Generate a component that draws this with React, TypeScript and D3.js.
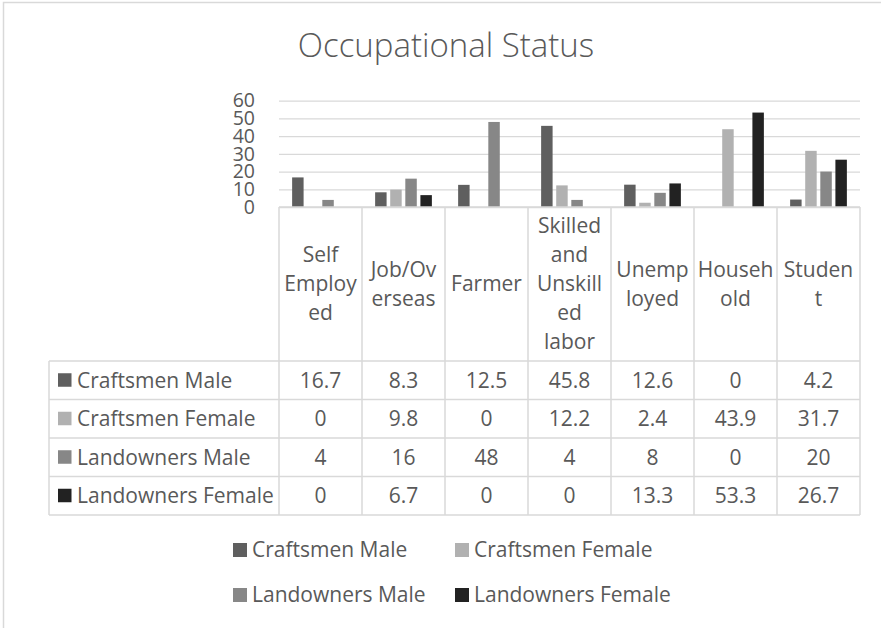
import React, { useRef, useEffect } from "react";
import * as d3 from "d3";

const categories = [
  "Self Employed",
  "Job/Overseas",
  "Farmer",
  "Skilled and Unskilled labor",
  "Unemployed",
  "Household",
  "Student",
];
// header text as it wraps in the table cells
const categoryLines = [
  ["Self", "Employ", "ed"],
  ["Job/Ov", "erseas"],
  ["Farmer"],
  ["Skilled", "and", "Unskill", "ed", "labor"],
  ["Unemp", "loyed"],
  ["Househ", "old"],
  ["Studen", "t"],
];
const seriesNames = [
  "Craftsmen Male",
  "Craftsmen Female",
  "Landowners Male",
  "Landowners Female",
];
const craftsmenMale = [16.7, 8.3, 12.5, 45.8, 12.6, 0, 4.2];
const craftsmenFemale = [0, 9.8, 0, 12.2, 2.4, 43.9, 31.7];
const landownersMale = [4, 16, 48, 4, 8, 0, 20];
const landownersFemale = [0, 6.7, 0, 0, 13.3, 53.3, 26.7];
const yTicks = [0, 10, 20, 30, 40, 50, 60];

const seriesColors = ["#5f5f5f", "#b1b1b1", "#878787", "#222222"];
const FONT = "'Open Sans', Lato, sans-serif";
const TEXT = "#595959";
const LINE = "#d9d9d9";

const OccupationalChart = () => {
  const svgRef = useRef<SVGSVGElement>(null);

  useEffect(() => {
    const svg = d3.select(svgRef.current);
    svg.selectAll("*").remove();

    const plotLeft = 279;
    const plotRight = 860;
    const plotTop = 100.7;
    const plotBottom = 207;
    const tableLeft = 49;
    const headerBottom = 361;
    const tableBottom = 515;
    const fs = 21;

    const allValues = [craftsmenMale, craftsmenFemale, landownersMale, landownersFemale];

    // chart frame
    svg
      .append("rect")
      .attr("x", 3.5)
      .attr("y", 2.5)
      .attr("width", 900)
      .attr("height", 700)
      .attr("fill", "white")
      .attr("stroke", LINE)
      .attr("stroke-width", 1.5);

    svg
      .append("text")
      .attr("x", 446)
      .attr("y", 57)
      .attr("text-anchor", "middle")
      .attr("font-size", 33)
      .attr("font-weight", 300)
      .attr("fill", TEXT)
      .text("Occupational Status");

    const x0 = d3.scaleBand().domain(categories).range([plotLeft, plotRight]);
    const x1 = d3
      .scaleBand()
      .domain(seriesNames)
      .range([0, x0.bandwidth()])
      .paddingInner(0.24)
      .paddingOuter(0.87);
    const y = d3.scaleLinear().domain([0, 60]).range([plotBottom, plotTop]);

    // y axis with gridlines
    const yAxis = d3
      .axisLeft(y)
      .tickValues(yTicks)
      .tickSize(-(plotRight - plotLeft))
      .tickPadding(24)
      .tickFormat((d) => String(d));

    const yg = svg
      .append("g")
      .attr("transform", `translate(${plotLeft},0)`)
      .call(yAxis);
    yg.select(".domain").remove();
    yg.selectAll(".tick line").attr("stroke", LINE).attr("stroke-width", 1.3);
    yg.selectAll(".tick text")
      .attr("fill", TEXT)
      .attr("font-size", 19.5)
      .attr("font-family", FONT);

    // bars
    const groups = svg
      .append("g")
      .selectAll("g")
      .data(categories)
      .enter()
      .append("g")
      .attr("transform", (d) => `translate(${x0(d)},0)`);

    groups
      .selectAll("rect")
      .data((d, i) => seriesNames.map((s, j) => ({ series: s, value: allValues[j][i], j })))
      .enter()
      .append("rect")
      .attr("x", (d) => x1(d.series))
      .attr("y", (d) => y(d.value))
      .attr("width", x1.bandwidth())
      .attr("height", (d) => plotBottom - y(d.value))
      .attr("fill", (d) => seriesColors[d.j]);

    // data table
    const rows = d3
      .scaleBand()
      .domain(seriesNames)
      .range([headerBottom, tableBottom]);

    const table = svg.append("g");
    const hline = (yy, xa, xb) =>
      table
        .append("line")
        .attr("x1", xa)
        .attr("x2", xb)
        .attr("y1", yy)
        .attr("y2", yy)
        .attr("stroke", LINE)
        .attr("stroke-width", 1.5);
    const vline = (xx, ya, yb) =>
      table
        .append("line")
        .attr("x1", xx)
        .attr("x2", xx)
        .attr("y1", ya)
        .attr("y2", yb)
        .attr("stroke", LINE)
        .attr("stroke-width", 1.5);

    hline(plotBottom, plotLeft, plotRight);
    seriesNames.forEach((s) => hline(rows(s), tableLeft, plotRight));
    hline(tableBottom, tableLeft, plotRight);
    vline(tableLeft, headerBottom, tableBottom);
    categories.forEach((c) => vline(x0(c), plotBottom, tableBottom));
    vline(plotRight, plotBottom, tableBottom);

    // header labels
    const lineH = 29;
    const headerMid = (plotBottom + headerBottom) / 2;
    categories.forEach((c, i) => {
      const lines = categoryLines[i];
      const cx = x0(c) + x0.bandwidth() / 2;
      lines.forEach((t, k) => {
        table
          .append("text")
          .attr("x", cx)
          .attr("y", headerMid + (k - (lines.length - 1) / 2) * lineH)
          .attr("dy", "0.35em")
          .attr("text-anchor", "middle")
          .attr("font-size", fs)
          .attr("fill", TEXT)
          .text(t);
      });
    });

    // row labels and values
    seriesNames.forEach((s, j) => {
      const cy = rows(s) + rows.bandwidth() / 2;
      table
        .append("rect")
        .attr("x", 58)
        .attr("y", cy - 7)
        .attr("width", 13.5)
        .attr("height", 13.5)
        .attr("fill", seriesColors[j]);
      table
        .append("text")
        .attr("x", 77)
        .attr("y", cy)
        .attr("dy", "0.35em")
        .attr("font-size", fs)
        .attr("fill", TEXT)
        .text(s);
      categories.forEach((c, i) => {
        table
          .append("text")
          .attr("x", x0(c) + x0.bandwidth() / 2)
          .attr("y", cy)
          .attr("dy", "0.35em")
          .attr("text-anchor", "middle")
          .attr("font-size", fs)
          .attr("fill", TEXT)
          .text(String(allValues[j][i]));
      });
    });

    // legend
    const legendX = [233, 455];
    const legendY = [550, 595];
    const legend = svg.append("g");
    seriesNames.forEach((s, j) => {
      const lx = legendX[j % 2];
      const ly = legendY[Math.floor(j / 2)];
      legend
        .append("rect")
        .attr("x", lx)
        .attr("y", ly - 7)
        .attr("width", 14)
        .attr("height", 14)
        .attr("fill", seriesColors[j]);
      legend
        .append("text")
        .attr("x", lx + 19)
        .attr("y", ly)
        .attr("dy", "0.35em")
        .attr("font-size", fs)
        .attr("fill", TEXT)
        .text(s);
    });
  }, []);

  return (
    <svg
      ref={svgRef}
      width={881}
      height={628}
      fontFamily={FONT}
      style={{ position: "absolute", left: 0, top: 0, background: "white" }}
    ></svg>
  );
};

export default function App() {
  return <OccupationalChart />;
}
